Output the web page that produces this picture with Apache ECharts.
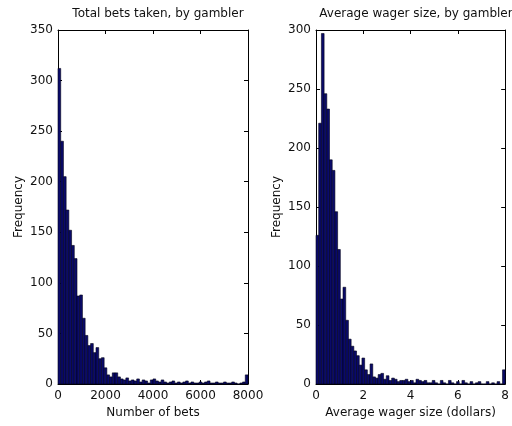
<!DOCTYPE html>
<html>
<head>
<meta charset="utf-8">
<script src="https://cdn.jsdelivr.net/npm/echarts@6/dist/echarts.min.js"></script>
<style>
  html, body { margin: 0; padding: 0; background: #fff; }
  #chart { width: 512px; height: 426px; }
</style>
</head>
<body>
<div id="chart"></div>
<script>
// histogram counts (70 bins each, last bin = overflow)
const betsCounts = [
  312, 240, 205, 172, 152, 137, 124, 87, 88, 65,
  48, 38, 40, 31, 36, 25, 26, 16, 9, 7,
  11, 11, 7, 5, 4, 6, 3, 4, 3, 5,
  2, 4, 3, 1, 4, 5, 3, 2, 4, 2,
  1, 2, 3, 1, 2, 1, 2, 3, 1, 2,
  1, 1, 2, 1, 2, 3, 1, 1, 2, 1,
  1, 2, 1, 1, 2, 1, 0, 1, 2, 9
];
const wagerCounts = [
  126, 221, 297, 246, 233, 190, 181, 146, 114, 72,
  82, 54, 38, 32, 28, 24, 16, 22, 12, 8,
  17, 6, 5, 8, 9, 4, 7, 3, 5, 4,
  2, 3, 3, 4, 2, 3, 1, 4, 3, 2,
  3, 1, 1, 3, 1, 0, 3, 1, 0, 3,
  1, 0, 2, 0, 3, 1, 0, 2, 0, 1,
  2, 0, 0, 2, 0, 1, 0, 2, 0, 12
];
const betsRange = [0, 8000];
const wagerRange = [0, 8];
const titles = ['Total bets taken, by gambler', 'Average wager size, by gambler'];
const xNames = ['Number of bets', 'Average wager size (dollars)'];

const toBins = (counts, range) => {
  const w = (range[1] - range[0]) / counts.length;
  return counts.map((c, i) => [range[0] + i * w, range[0] + (i + 1) * w, c]);
};

const font = 'DejaVu Sans, sans-serif';
const txt = { color: '#111', fontFamily: font, fontSize: 12 };

const renderBar = (params, api) => {
  const p0 = api.coord([api.value(0), api.value(2)]);
  const p1 = api.coord([api.value(1), 0]);
  return {
    type: 'rect',
    shape: { x: p0[0], y: p0[1], width: p1[0] - p0[0], height: p1[1] - p0[1] },
    style: { fill: '#0a0a6a', stroke: '#000018', lineWidth: 0.6 }
  };
};

const xAxisFor = (grid, range, interval, pos, labels) => ({
  type: 'value', gridIndex: grid, position: pos,
  min: range[0], max: range[1], interval: interval,
  axisLine: { onZero: false, lineStyle: { color: '#000', width: 1 } },
  axisTick: { inside: true, length: 4, lineStyle: { color: '#000' } },
  axisLabel: { show: labels, ...txt, margin: 6, formatter: v => String(v) },
  splitLine: { show: false },
  name: labels ? xNames[grid] : '',
  nameLocation: 'middle', nameGap: 22, nameTextStyle: txt
});

const yAxisFor = (grid, max, pos, labels) => ({
  type: 'value', gridIndex: grid, position: pos,
  min: 0, max: max, interval: 50,
  axisLine: { onZero: false, lineStyle: { color: '#000', width: 1 } },
  axisTick: { inside: true, length: 4, lineStyle: { color: '#000' } },
  axisLabel: { show: labels, ...txt, margin: 5 },
  splitLine: { show: false },
  name: labels ? 'Frequency' : '',
  nameLocation: 'middle', nameGap: 33, nameTextStyle: txt
});

const chart = echarts.init(document.getElementById('chart'));
chart.setOption({
  animation: false,
  backgroundColor: '#fff',
  title: [
    { text: titles[0], left: 153, top: 3, textAlign: 'center', textStyle: { ...txt, fontWeight: 'normal' } },
    { text: titles[1], left: 411, top: 3, textAlign: 'center', textStyle: { ...txt, fontWeight: 'normal' } }
  ],
  grid: [
    { left: 58, top: 30, width: 190, height: 354 },
    { left: 316, top: 30, width: 191, height: 354 }
  ],
  xAxis: [
    xAxisFor(0, betsRange, 2000, 'bottom', true),
    xAxisFor(0, betsRange, 2000, 'top', false),
    xAxisFor(1, wagerRange, 2, 'bottom', true),
    xAxisFor(1, wagerRange, 2, 'top', false)
  ],
  yAxis: [
    yAxisFor(0, 350, 'left', true),
    yAxisFor(0, 350, 'right', false),
    yAxisFor(1, 300, 'left', true),
    yAxisFor(1, 300, 'right', false)
  ],
  series: [
    {
      type: 'custom', xAxisIndex: 0, yAxisIndex: 0,
      renderItem: renderBar, encode: { x: [0, 1], y: 2 },
      data: toBins(betsCounts, betsRange)
    },
    {
      type: 'custom', xAxisIndex: 2, yAxisIndex: 2,
      renderItem: renderBar, encode: { x: [0, 1], y: 2 },
      data: toBins(wagerCounts, wagerRange)
    }
  ]
});
</script>
</body>
</html>
